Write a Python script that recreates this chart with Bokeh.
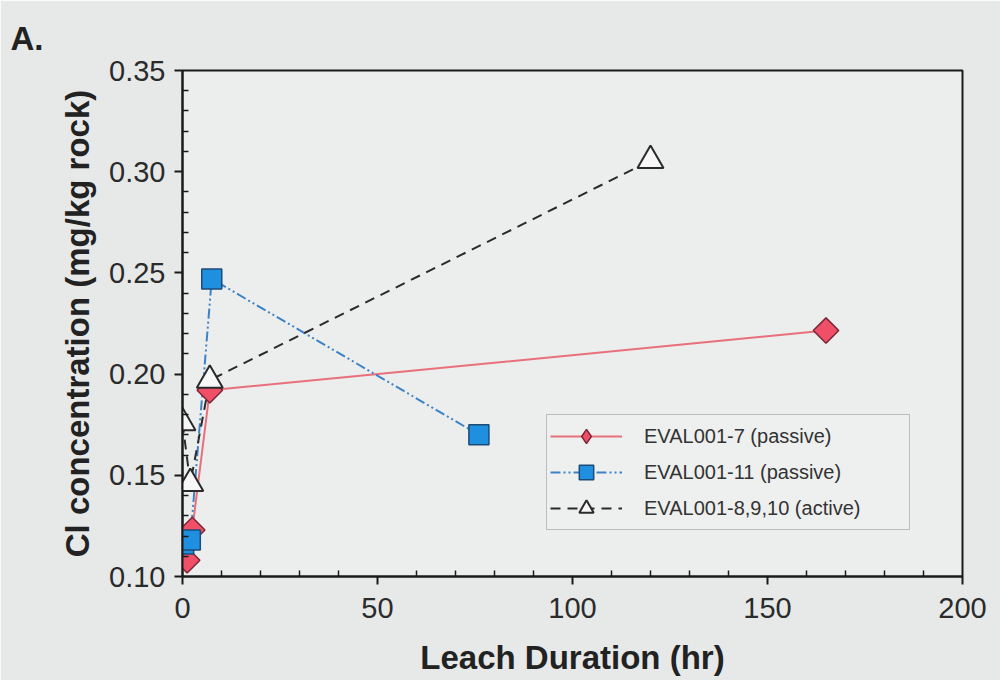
import math
from bokeh.plotting import figure
from bokeh.models import (Range1d, FixedTicker, NumeralTickFormatter,
                          Legend, LegendItem)
from bokeh.embed import file_html
from bokeh.resources import INLINE

# ---------------- data ----------------
panel_label = "A."
x_title = "Leach Duration (hr)"
y_title = "Cl concentration (mg/kg rock)"
series_names = ["EVAL001-7 (passive)", "EVAL001-11 (passive)", "EVAL001-8,9,10 (active)"]

eval7_hr = [1.2, 2.5, 7.0, 165.0]
eval7_cl = [0.108, 0.123, 0.192, 0.2215]

eval11_hr = [0.3, 2.0, 7.5, 76.0]
eval11_cl = [0.116, 0.118, 0.247, 0.170]

eval8_hr = [0.0, 2.0, 7.0, 120.0]
eval8_cl = [0.176, 0.146, 0.197, 0.3055]

x_ticks = [0, 50, 100, 150, 200]
y_ticks = [0.10, 0.15, 0.20, 0.25, 0.30, 0.35]

# ---------------- figure ----------------
FONT = "Liberation Sans"
W, H = 1000, 680
p = figure(width=W, height=H,
           x_range=Range1d(x_ticks[0], x_ticks[-1]), y_range=Range1d(y_ticks[0], y_ticks[-1]),
           output_backend="svg", toolbar_location=None,
           min_border_left=182, min_border_right=W - 962,
           min_border_top=70, min_border_bottom=H - 576)

p.background_fill_color = "#eceeed"
p.border_fill_color = "#e6e9e8"
p.outline_line_color = "#1a1a1a"
p.outline_line_width = 2
p.grid.visible = False

def minors(ticks, n=5):
    out = []
    for a, b in zip(ticks[:-1], ticks[1:]):
        step = (b - a) / n
        out += [a + k * step for k in range(1, n)]
    return out

p.xaxis.ticker = FixedTicker(ticks=x_ticks, minor_ticks=minors(x_ticks))
p.yaxis.ticker = FixedTicker(ticks=y_ticks, minor_ticks=minors(y_ticks))
p.yaxis.formatter = NumeralTickFormatter(format="0.00")
p.xaxis.formatter = NumeralTickFormatter(format="0")

for ax in (p.xaxis, p.yaxis):
    ax.axis_line_color = "#1a1a1a"
    ax.axis_line_width = 2
    ax.major_tick_line_color = "#1a1a1a"
    ax.major_tick_line_width = 2
    ax.major_tick_out = 8
    ax.major_tick_in = 0
    ax.minor_tick_line_color = "#1a1a1a"
    ax.minor_tick_line_width = 1.5
    ax.minor_tick_in = 6
    ax.minor_tick_out = 0
    ax.major_label_text_font = FONT
    ax.major_label_text_font_size = "29px"
    ax.major_label_text_color = "#2b2b2b"
    ax.axis_label_text_font = FONT
    ax.axis_label_text_font_size = "33px"
    ax.axis_label_text_font_style = "bold"
    ax.axis_label_text_color = "#222222"

p.xaxis.axis_label = x_title
p.yaxis.axis_label = y_title
p.xaxis.major_label_standoff = 13
p.xaxis.axis_label_standoff = 18
p.yaxis.major_label_standoff = 9
p.yaxis.axis_label_standoff = 10

# panel letter as a left-aligned title pulled over the left border
p.title.text = panel_label
p.title.align = "left"
p.title.vertical_align = "top"
p.title.offset = -172
p.title.text_font = FONT
p.title.text_font_size = "33px"
p.title.text_font_style = "bold"
p.title.text_color = "#222222"
p.title.standoff = 24

# ---------------- series ----------------
red_line = p.line(eval7_hr, eval7_cl, line_color="#e8707a", line_width=2)
blue_line = p.line(eval11_hr, eval11_cl, line_color="#3d82c6", line_width=2,
                   line_dash="10 3 2 3 2 3")
black_line = p.line(eval8_hr, eval8_cl, line_color="#2a2a2a", line_width=2,
                    line_dash="10 7")

# legend key for the diamonds (legend markers are drawn unrotated);
# zero-sized in the plot and covered by the rotated squares drawn on top
red_key = p.scatter(eval7_hr, eval7_cl, marker="diamond", size=0,
                    fill_color="#ef5068", line_color="#7a2636", line_width=1.5)

red_pts = p.scatter(eval7_hr, eval7_cl, marker="square", angle=math.pi / 4, size=18,
                    fill_color="#ef5068", line_color="#7a2636", line_width=1.5)
blue_pts = p.scatter(eval11_hr, eval11_cl, marker="square", size=20,
                     fill_color="#1f8fe0", line_color="#1d4b78", line_width=1.5)
tri_pts = p.scatter(eval8_hr, eval8_cl, marker="triangle", size=26,
                    fill_color="#f6f7f6", line_color="#2a2a2a", line_width=2)

legend = Legend(items=[
    LegendItem(label=series_names[0], renderers=[red_line, red_key]),
    LegendItem(label=series_names[1], renderers=[blue_line, blue_pts]),
    LegendItem(label=series_names[2], renderers=[black_line, tri_pts]),
], location=(364, 46))
legend.glyph_width = 72
legend.glyph_height = 36
legend.spacing = 0
legend.padding = 3
legend.margin = 0
legend.label_standoff = 22
legend.label_width = 262
legend.label_text_font = FONT
legend.label_text_font_size = "20px"
legend.label_text_color = "#333333"
legend.background_fill_color = "#eef0ef"
legend.background_fill_alpha = 1.0
legend.border_line_color = "#8a8a8a"
legend.border_line_width = 1.5
p.add_layout(legend, "center")

open("out.html", "w").write(file_html(p, INLINE))
